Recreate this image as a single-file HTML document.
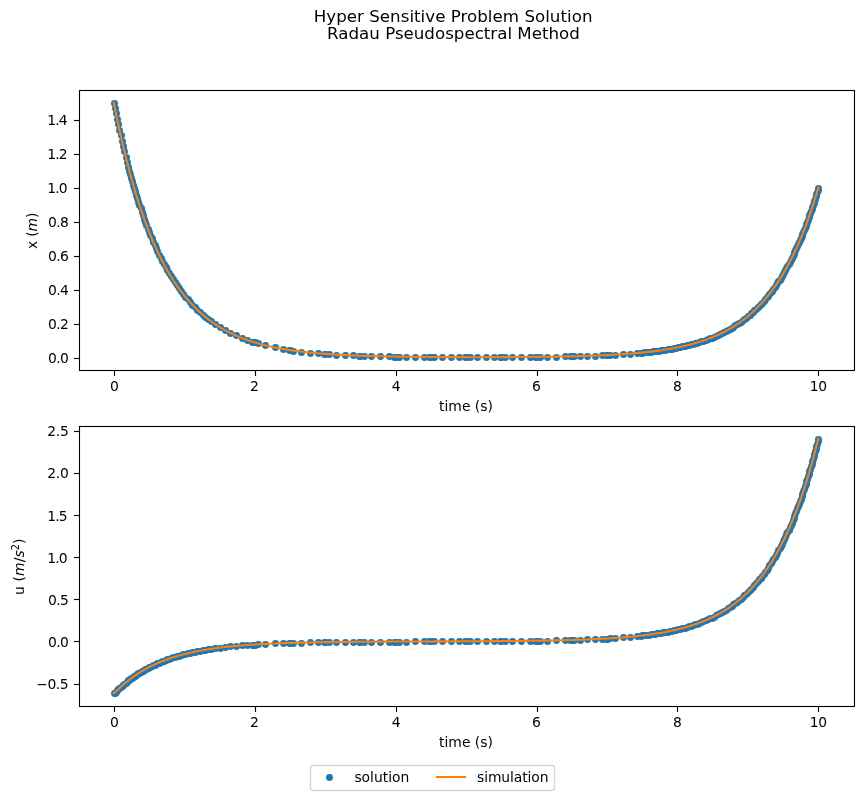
<!DOCTYPE html>
<html><head><meta charset="utf-8"><title>Hyper Sensitive Problem Solution</title>
<style>
html,body{margin:0;padding:0;background:#fff;}
svg{display:block;font-family:"DejaVu Sans","Liberation Sans",sans-serif;fill:#000;}
.t10{font-size:13.889px;}
.t12{font-size:16.667px;}
.yl{letter-spacing:-0.5px;}
</style></head><body>
<svg width="863" height="797" viewBox="0 0 863 797">
<rect width="863" height="797" fill="#fff"/>
<g class="t12" text-anchor="middle"><text x="453.1" y="22" letter-spacing="0.03">Hyper Sensitive Problem Solution</text><text x="453.45" y="39">Radau Pseudospectral Method</text></g>
<g fill="#1f77b4"><circle cx="114.5" cy="103.5" r="3.47"/><circle cx="115.5" cy="108.5" r="3.47"/><circle cx="116.5" cy="113.5" r="3.47"/><circle cx="117.5" cy="119.5" r="3.47"/><circle cx="118.5" cy="124.5" r="3.47"/><circle cx="119.5" cy="130.5" r="3.47"/><circle cx="121.5" cy="135.5" r="3.47"/><circle cx="122.5" cy="141.5" r="3.47"/><circle cx="123.5" cy="146.5" r="3.47"/><circle cx="124.5" cy="151.5" r="3.47"/><circle cx="126.5" cy="157.5" r="3.47"/><circle cx="127.5" cy="162.5" r="3.47"/><circle cx="128.5" cy="167.5" r="3.47"/><circle cx="129.5" cy="171.5" r="3.47"/><circle cx="130.5" cy="174.5" r="3.47"/><circle cx="131.5" cy="178.5" r="3.47"/><circle cx="132.5" cy="181.5" r="3.47"/><circle cx="133.5" cy="185.5" r="3.47"/><circle cx="134.5" cy="188.5" r="3.47"/><circle cx="135.5" cy="191.5" r="3.47"/><circle cx="136.5" cy="195.5" r="3.47"/><circle cx="137.5" cy="198.5" r="3.47"/><circle cx="138.5" cy="202.5" r="3.47"/><circle cx="139.5" cy="205.5" r="3.47"/><circle cx="141.5" cy="208.5" r="3.47"/><circle cx="142.5" cy="212.5" r="3.47"/><circle cx="143.5" cy="215.5" r="3.47"/><circle cx="144.5" cy="219.5" r="3.47"/><circle cx="145.5" cy="222.5" r="3.47"/><circle cx="146.5" cy="225.5" r="3.47"/><circle cx="148.5" cy="229.5" r="3.47"/><circle cx="149.5" cy="232.5" r="3.47"/><circle cx="150.5" cy="235.5" r="3.47"/><circle cx="152.5" cy="238.5" r="3.47"/><circle cx="153.5" cy="242.5" r="3.47"/><circle cx="155.5" cy="245.5" r="3.47"/><circle cx="156.5" cy="248.5" r="3.47"/><circle cx="157.5" cy="251.5" r="3.47"/><circle cx="159.5" cy="255.5" r="3.47"/><circle cx="161.5" cy="258.5" r="3.47"/><circle cx="162.5" cy="261.5" r="3.47"/><circle cx="164.5" cy="264.5" r="3.47"/><circle cx="166.5" cy="267.5" r="3.47"/><circle cx="167.5" cy="270.5" r="3.47"/><circle cx="169.5" cy="273.5" r="3.47"/><circle cx="171.5" cy="276.5" r="3.47"/><circle cx="173.5" cy="279.5" r="3.47"/><circle cx="175.5" cy="282.5" r="3.47"/><circle cx="177.5" cy="285.5" r="3.47"/><circle cx="179.5" cy="288.5" r="3.47"/><circle cx="181.5" cy="291.5" r="3.47"/><circle cx="183.5" cy="294.5" r="3.47"/><circle cx="185.5" cy="297.5" r="3.47"/><circle cx="188.5" cy="299.5" r="3.47"/><circle cx="190.5" cy="302.5" r="3.47"/><circle cx="192.5" cy="305.5" r="3.47"/><circle cx="195.5" cy="307.5" r="3.47"/><circle cx="197.5" cy="310.5" r="3.47"/><circle cx="200.5" cy="312.5" r="3.47"/><circle cx="203.5" cy="315.5" r="3.47"/><circle cx="205.5" cy="317.5" r="3.47"/><circle cx="208.5" cy="319.5" r="3.47"/><circle cx="211.5" cy="321.5" r="3.47"/><circle cx="215.5" cy="324.5" r="3.47"/><circle cx="220.5" cy="327.5" r="3.47"/><circle cx="225.5" cy="330.5" r="3.47"/><circle cx="230.5" cy="333.5" r="3.47"/><circle cx="236.5" cy="335.5" r="3.47"/><circle cx="242.5" cy="338.5" r="3.47"/><circle cx="247.5" cy="340.5" r="3.47"/><circle cx="252.5" cy="342.5" r="3.47"/><circle cx="254.5" cy="342.5" r="3.47"/><circle cx="255.5" cy="342.5" r="3.47"/><circle cx="258.5" cy="343.5" r="3.47"/><circle cx="265.5" cy="345.5" r="3.47"/><circle cx="275.5" cy="347.5" r="3.47"/><circle cx="283.5" cy="349.5" r="3.47"/><circle cx="289.5" cy="350.5" r="3.47"/><circle cx="290.5" cy="350.5" r="3.47"/><circle cx="293.5" cy="351.5" r="3.47"/><circle cx="301.5" cy="352.5" r="3.47"/><circle cx="310.5" cy="353.5" r="3.47"/><circle cx="318.5" cy="353.5" r="3.47"/><circle cx="324.5" cy="354.5" r="3.47"/><circle cx="325.5" cy="354.5" r="3.47"/><circle cx="329.5" cy="354.5" r="3.47"/><circle cx="336.5" cy="355.5" r="3.47"/><circle cx="345.5" cy="355.5" r="3.47"/><circle cx="353.5" cy="355.5" r="3.47"/><circle cx="359.5" cy="356.5" r="3.47"/><circle cx="360.5" cy="356.5" r="3.47"/><circle cx="364.5" cy="356.5" r="3.47"/><circle cx="371.5" cy="356.5" r="3.47"/><circle cx="380.5" cy="356.5" r="3.47"/><circle cx="389.5" cy="356.5" r="3.47"/><circle cx="394.5" cy="357.5" r="3.47"/><circle cx="396.5" cy="357.5" r="3.47"/><circle cx="399.5" cy="357.5" r="3.47"/><circle cx="406.5" cy="357.5" r="3.47"/><circle cx="415.5" cy="357.5" r="3.47"/><circle cx="424.5" cy="357.5" r="3.47"/><circle cx="429.5" cy="357.5" r="3.47"/><circle cx="431.5" cy="357.5" r="3.47"/><circle cx="434.5" cy="357.5" r="3.47"/><circle cx="442.5" cy="357.5" r="3.47"/><circle cx="451.5" cy="357.5" r="3.47"/><circle cx="459.5" cy="357.5" r="3.47"/><circle cx="465.5" cy="357.5" r="3.47"/><circle cx="466.5" cy="357.5" r="3.47"/><circle cx="470.5" cy="357.5" r="3.47"/><circle cx="477.5" cy="357.5" r="3.47"/><circle cx="486.5" cy="357.5" r="3.47"/><circle cx="494.5" cy="357.5" r="3.47"/><circle cx="500.5" cy="357.5" r="3.47"/><circle cx="501.5" cy="357.5" r="3.47"/><circle cx="505.5" cy="357.5" r="3.47"/><circle cx="512.5" cy="357.5" r="3.47"/><circle cx="521.5" cy="357.5" r="3.47"/><circle cx="530.5" cy="357.5" r="3.47"/><circle cx="535.5" cy="357.5" r="3.47"/><circle cx="537.5" cy="357.5" r="3.47"/><circle cx="540.5" cy="357.5" r="3.47"/><circle cx="547.5" cy="357.5" r="3.47"/><circle cx="556.5" cy="357.5" r="3.47"/><circle cx="565.5" cy="356.5" r="3.47"/><circle cx="570.5" cy="356.5" r="3.47"/><circle cx="572.5" cy="356.5" r="3.47"/><circle cx="574.5" cy="356.5" r="3.47"/><circle cx="580.5" cy="356.5" r="3.47"/><circle cx="587.5" cy="356.5" r="3.47"/><circle cx="595.5" cy="356.5" r="3.47"/><circle cx="602.5" cy="355.5" r="3.47"/><circle cx="606.5" cy="355.5" r="3.47"/><circle cx="607.5" cy="355.5" r="3.47"/><circle cx="610.5" cy="355.5" r="3.47"/><circle cx="615.5" cy="355.5" r="3.47"/><circle cx="623.5" cy="354.5" r="3.47"/><circle cx="630.5" cy="354.5" r="3.47"/><circle cx="637.5" cy="353.5" r="3.47"/><circle cx="641.5" cy="353.5" r="3.47"/><circle cx="642.5" cy="353.5" r="3.47"/><circle cx="644.5" cy="352.5" r="3.47"/><circle cx="646.5" cy="352.5" r="3.47"/><circle cx="649.5" cy="352.5" r="3.47"/><circle cx="651.5" cy="352.5" r="3.47"/><circle cx="653.5" cy="351.5" r="3.47"/><circle cx="655.5" cy="351.5" r="3.47"/><circle cx="657.5" cy="351.5" r="3.47"/><circle cx="659.5" cy="351.5" r="3.47"/><circle cx="661.5" cy="350.5" r="3.47"/><circle cx="663.5" cy="350.5" r="3.47"/><circle cx="665.5" cy="350.5" r="3.47"/><circle cx="668.5" cy="349.5" r="3.47"/><circle cx="670.5" cy="349.5" r="3.47"/><circle cx="672.5" cy="349.5" r="3.47"/><circle cx="674.5" cy="348.5" r="3.47"/><circle cx="676.5" cy="348.5" r="3.47"/><circle cx="678.5" cy="347.5" r="3.47"/><circle cx="680.5" cy="347.5" r="3.47"/><circle cx="682.5" cy="346.5" r="3.47"/><circle cx="685.5" cy="346.5" r="3.47"/><circle cx="687.5" cy="345.5" r="3.47"/><circle cx="689.5" cy="345.5" r="3.47"/><circle cx="691.5" cy="344.5" r="3.47"/><circle cx="693.5" cy="344.5" r="3.47"/><circle cx="695.5" cy="343.5" r="3.47"/><circle cx="697.5" cy="343.5" r="3.47"/><circle cx="699.5" cy="342.5" r="3.47"/><circle cx="701.5" cy="341.5" r="3.47"/><circle cx="703.5" cy="341.5" r="3.47"/><circle cx="706.5" cy="340.5" r="3.47"/><circle cx="708.5" cy="339.5" r="3.47"/><circle cx="710.5" cy="338.5" r="3.47"/><circle cx="712.5" cy="338.5" r="3.47"/><circle cx="714.5" cy="337.5" r="3.47"/><circle cx="716.5" cy="336.5" r="3.47"/><circle cx="718.5" cy="335.5" r="3.47"/><circle cx="720.5" cy="334.5" r="3.47"/><circle cx="722.5" cy="333.5" r="3.47"/><circle cx="724.5" cy="332.5" r="3.47"/><circle cx="726.5" cy="331.5" r="3.47"/><circle cx="728.5" cy="330.5" r="3.47"/><circle cx="730.5" cy="329.5" r="3.47"/><circle cx="732.5" cy="328.5" r="3.47"/><circle cx="733.5" cy="327.5" r="3.47"/><circle cx="735.5" cy="325.5" r="3.47"/><circle cx="737.5" cy="324.5" r="3.47"/><circle cx="739.5" cy="323.5" r="3.47"/><circle cx="741.5" cy="322.5" r="3.47"/><circle cx="743.5" cy="320.5" r="3.47"/><circle cx="744.5" cy="319.5" r="3.47"/><circle cx="746.5" cy="318.5" r="3.47"/><circle cx="748.5" cy="316.5" r="3.47"/><circle cx="750.5" cy="315.5" r="3.47"/><circle cx="751.5" cy="313.5" r="3.47"/><circle cx="753.5" cy="312.5" r="3.47"/><circle cx="754.5" cy="310.5" r="3.47"/><circle cx="756.5" cy="309.5" r="3.47"/><circle cx="758.5" cy="307.5" r="3.47"/><circle cx="759.5" cy="306.5" r="3.47"/><circle cx="761.5" cy="304.5" r="3.47"/><circle cx="762.5" cy="303.5" r="3.47"/><circle cx="764.5" cy="301.5" r="3.47"/><circle cx="765.5" cy="299.5" r="3.47"/><circle cx="767.5" cy="297.5" r="3.47"/><circle cx="768.5" cy="296.5" r="3.47"/><circle cx="769.5" cy="294.5" r="3.47"/><circle cx="771.5" cy="292.5" r="3.47"/><circle cx="772.5" cy="291.5" r="3.47"/><circle cx="773.5" cy="289.5" r="3.47"/><circle cx="775.5" cy="287.5" r="3.47"/><circle cx="776.5" cy="285.5" r="3.47"/><circle cx="777.5" cy="283.5" r="3.47"/><circle cx="778.5" cy="281.5" r="3.47"/><circle cx="780.5" cy="280.5" r="3.47"/><circle cx="781.5" cy="278.5" r="3.47"/><circle cx="782.5" cy="276.5" r="3.47"/><circle cx="783.5" cy="274.5" r="3.47"/><circle cx="784.5" cy="272.5" r="3.47"/><circle cx="785.5" cy="270.5" r="3.47"/><circle cx="786.5" cy="268.5" r="3.47"/><circle cx="787.5" cy="266.5" r="3.47"/><circle cx="789.5" cy="264.5" r="3.47"/><circle cx="790.5" cy="262.5" r="3.47"/><circle cx="791.5" cy="260.5" r="3.47"/><circle cx="792.5" cy="258.5" r="3.47"/><circle cx="793.5" cy="256.5" r="3.47"/><circle cx="794.5" cy="254.5" r="3.47"/><circle cx="794.5" cy="252.5" r="3.47"/><circle cx="795.5" cy="250.5" r="3.47"/><circle cx="796.5" cy="248.5" r="3.47"/><circle cx="797.5" cy="246.5" r="3.47"/><circle cx="798.5" cy="244.5" r="3.47"/><circle cx="799.5" cy="242.5" r="3.47"/><circle cx="800.5" cy="240.5" r="3.47"/><circle cx="801.5" cy="238.5" r="3.47"/><circle cx="802.5" cy="236.5" r="3.47"/><circle cx="802.5" cy="234.5" r="3.47"/><circle cx="803.5" cy="232.5" r="3.47"/><circle cx="804.5" cy="230.5" r="3.47"/><circle cx="805.5" cy="228.5" r="3.47"/><circle cx="806.5" cy="226.5" r="3.47"/><circle cx="806.5" cy="224.5" r="3.47"/><circle cx="807.5" cy="222.5" r="3.47"/><circle cx="808.5" cy="220.5" r="3.47"/><circle cx="809.5" cy="217.5" r="3.47"/><circle cx="809.5" cy="215.5" r="3.47"/><circle cx="810.5" cy="213.5" r="3.47"/><circle cx="811.5" cy="211.5" r="3.47"/><circle cx="812.5" cy="209.5" r="3.47"/><circle cx="812.5" cy="207.5" r="3.47"/><circle cx="813.5" cy="205.5" r="3.47"/><circle cx="814.5" cy="203.5" r="3.47"/><circle cx="814.5" cy="201.5" r="3.47"/><circle cx="815.5" cy="199.5" r="3.47"/><circle cx="816.5" cy="196.5" r="3.47"/><circle cx="816.5" cy="194.5" r="3.47"/><circle cx="817.5" cy="192.5" r="3.47"/><circle cx="818.5" cy="190.5" r="3.47"/><circle cx="818.5" cy="188.5" r="3.47"/></g>
<polyline points="113.83,102.63 115.24,109.75 116.65,116.67 118.06,123.40 119.47,129.95 120.89,136.31 122.30,142.49 123.71,148.50 125.12,154.34 126.53,160.01 127.95,165.53 129.36,170.90 130.77,176.11 132.18,181.18 133.59,186.11 135.01,190.90 136.42,195.56 137.83,200.08 139.24,204.48 140.65,208.76 142.07,212.91 143.48,216.96 144.89,220.88 146.30,224.70 147.71,228.41 149.13,232.02 150.54,235.53 151.95,238.94 153.36,242.25 154.77,245.47 156.18,248.60 157.60,251.65 159.01,254.61 160.42,257.48 161.83,260.28 163.24,262.99 164.66,265.64 166.07,268.20 167.48,270.70 168.89,273.13 170.30,275.48 171.72,277.78 173.13,280.01 174.54,282.17 175.95,284.28 177.36,286.32 178.78,288.31 180.19,290.25 181.60,292.13 183.01,293.95 184.42,295.73 185.83,297.46 187.25,299.14 188.66,300.77 190.07,302.35 191.48,303.90 192.89,305.39 194.31,306.85 195.72,308.27 197.13,309.64 198.54,310.98 199.95,312.28 201.37,313.55 202.78,314.77 204.19,315.97 205.60,317.13 207.01,318.26 208.43,319.36 209.84,320.42 211.25,321.46 212.66,322.47 214.07,323.45 215.49,324.40 216.90,325.32 218.31,326.22 219.72,327.10 221.13,327.95 222.54,328.78 223.96,329.58 225.37,330.36 226.78,331.12 228.19,331.86 229.60,332.57 231.02,333.27 232.43,333.95 233.84,334.61 235.25,335.25 236.66,335.87 238.08,336.48 239.49,337.06 240.90,337.64 242.31,338.19 243.72,338.73 245.14,339.26 246.55,339.77 247.96,340.26 249.37,340.75 250.78,341.21 252.19,341.67 253.61,342.11 255.02,342.54 256.43,342.96 257.84,343.37 259.25,343.76 260.67,344.15 262.08,344.52 263.49,344.89 264.90,345.24 266.31,345.58 267.73,345.92 269.14,346.24 270.55,346.55 271.96,346.86 273.37,347.16 274.79,347.45 276.20,347.73 277.61,348.00 279.02,348.27 280.43,348.53 281.85,348.78 283.26,349.02 284.67,349.26 286.08,349.49 287.49,349.72 288.90,349.93 290.32,350.15 291.73,350.35 293.14,350.55 294.55,350.75 295.96,350.94 297.38,351.12 298.79,351.30 300.20,351.47 301.61,351.64 303.02,351.81 304.44,351.96 305.85,352.12 307.26,352.27 308.67,352.42 310.08,352.56 311.50,352.70 312.91,352.83 314.32,352.96 315.73,353.09 317.14,353.21 318.55,353.33 319.97,353.45 321.38,353.56 322.79,353.67 324.20,353.78 325.61,353.89 327.03,353.99 328.44,354.09 329.85,354.18 331.26,354.27 332.67,354.36 334.09,354.45 335.50,354.54 336.91,354.62 338.32,354.70 339.73,354.78 341.15,354.86 342.56,354.93 343.97,355.00 345.38,355.07 346.79,355.14 348.21,355.20 349.62,355.27 351.03,355.33 352.44,355.39 353.85,355.45 355.26,355.51 356.68,355.56 358.09,355.62 359.50,355.67 360.91,355.72 362.32,355.77 363.74,355.82 365.15,355.86 366.56,355.91 367.97,355.95 369.38,356.00 370.80,356.04 372.21,356.08 373.62,356.12 375.03,356.16 376.44,356.19 377.86,356.23 379.27,356.26 380.68,356.30 382.09,356.33 383.50,356.36 384.91,356.39 386.33,356.42 387.74,356.45 389.15,356.48 390.56,356.51 391.97,356.54 393.39,356.56 394.80,356.59 396.21,356.61 397.62,356.63 399.03,356.66 400.45,356.68 401.86,356.70 403.27,356.72 404.68,356.74 406.09,356.76 407.51,356.78 408.92,356.80 410.33,356.82 411.74,356.83 413.15,356.85 414.57,356.87 415.98,356.88 417.39,356.90 418.80,356.91 420.21,356.92 421.62,356.94 423.04,356.95 424.45,356.96 425.86,356.98 427.27,356.99 428.68,357.00 430.10,357.01 431.51,357.02 432.92,357.03 434.33,357.04 435.74,357.05 437.16,357.06 438.57,357.07 439.98,357.08 441.39,357.08 442.80,357.09 444.22,357.10 445.63,357.10 447.04,357.11 448.45,357.12 449.86,357.12 451.27,357.13 452.69,357.13 454.10,357.14 455.51,357.14 456.92,357.15 458.33,357.15 459.75,357.15 461.16,357.16 462.57,357.16 463.98,357.16 465.39,357.16 466.81,357.17 468.22,357.17 469.63,357.17 471.04,357.17 472.45,357.17 473.87,357.17 475.28,357.17 476.69,357.17 478.10,357.17 479.51,357.17 480.93,357.17 482.34,357.17 483.75,357.17 485.16,357.17 486.57,357.17 487.98,357.16 489.40,357.16 490.81,357.16 492.22,357.15 493.63,357.15 495.04,357.15 496.46,357.14 497.87,357.14 499.28,357.13 500.69,357.13 502.10,357.12 503.52,357.12 504.93,357.11 506.34,357.11 507.75,357.10 509.16,357.09 510.58,357.09 511.99,357.08 513.40,357.07 514.81,357.06 516.22,357.05 517.63,357.04 519.05,357.03 520.46,357.02 521.87,357.01 523.28,357.00 524.69,356.99 526.11,356.98 527.52,356.97 528.93,356.96 530.34,356.94 531.75,356.93 533.17,356.92 534.58,356.90 535.99,356.89 537.40,356.87 538.81,356.85 540.23,356.84 541.64,356.82 543.05,356.80 544.46,356.79 545.87,356.77 547.29,356.75 548.70,356.73 550.11,356.71 551.52,356.69 552.93,356.66 554.34,356.64 555.76,356.62 557.17,356.59 558.58,356.57 559.99,356.54 561.40,356.52 562.82,356.49 564.23,356.46 565.64,356.43 567.05,356.40 568.46,356.37 569.88,356.34 571.29,356.31 572.70,356.27 574.11,356.24 575.52,356.20 576.94,356.17 578.35,356.13 579.76,356.09 581.17,356.05 582.58,356.01 583.99,355.97 585.41,355.92 586.82,355.88 588.23,355.83 589.64,355.78 591.05,355.74 592.47,355.69 593.88,355.63 595.29,355.58 596.70,355.53 598.11,355.47 599.53,355.41 600.94,355.35 602.35,355.29 603.76,355.22 605.17,355.16 606.59,355.09 608.00,355.02 609.41,354.95 610.82,354.88 612.23,354.80 613.65,354.73 615.06,354.65 616.47,354.56 617.88,354.48 619.29,354.39 620.70,354.30 622.12,354.21 623.53,354.12 624.94,354.02 626.35,353.92 627.76,353.81 629.18,353.71 630.59,353.60 632.00,353.49 633.41,353.37 634.82,353.25 636.24,353.13 637.65,353.00 639.06,352.87 640.47,352.74 641.88,352.60 643.30,352.46 644.71,352.32 646.12,352.17 647.53,352.01 648.94,351.85 650.35,351.69 651.77,351.52 653.18,351.35 654.59,351.18 656.00,350.99 657.41,350.81 658.83,350.61 660.24,350.41 661.65,350.21 663.06,350.00 664.47,349.78 665.89,349.56 667.30,349.33 668.71,349.10 670.12,348.85 671.53,348.61 672.95,348.35 674.36,348.09 675.77,347.81 677.18,347.54 678.59,347.25 680.01,346.95 681.42,346.65 682.83,346.34 684.24,346.02 685.65,345.69 687.06,345.34 688.48,344.99 689.89,344.63 691.30,344.26 692.71,343.88 694.12,343.49 695.54,343.09 696.95,342.67 698.36,342.25 699.77,341.81 701.18,341.36 702.60,340.89 704.01,340.41 705.42,339.92 706.83,339.41 708.24,338.89 709.66,338.36 711.07,337.81 712.48,337.24 713.89,336.66 715.30,336.06 716.71,335.44 718.13,334.81 719.54,334.15 720.95,333.48 722.36,332.79 723.77,332.08 725.19,331.35 726.60,330.60 728.01,329.82 729.42,329.02 730.83,328.21 732.25,327.36 733.66,326.50 735.07,325.60 736.48,324.69 737.89,323.74 739.31,322.77 740.72,321.77 742.13,320.74 743.54,319.69 744.95,318.60 746.37,317.48 747.78,316.33 749.19,315.14 750.60,313.93 752.01,312.67 753.42,311.38 754.84,310.06 756.25,308.69 757.66,307.29 759.07,305.85 760.48,304.36 761.90,302.83 763.31,301.26 764.72,299.64 766.13,297.98 767.54,296.27 768.96,294.50 770.37,292.69 771.78,290.83 773.19,288.91 774.60,286.94 776.02,284.91 777.43,282.82 778.84,280.68 780.25,278.47 781.66,276.19 783.07,273.86 784.49,271.45 785.90,268.98 787.31,266.43 788.72,263.81 790.13,261.12 791.55,258.35 792.96,255.50 794.37,252.56 795.78,249.55 797.19,246.44 798.61,243.25 800.02,239.96 801.43,236.58 802.84,233.11 804.25,229.53 805.67,225.85 807.08,222.07 808.49,218.17 809.90,214.17 811.31,210.05 812.73,205.81 814.14,201.44 815.55,196.96 816.96,192.34 818.37,187.59" fill="none" stroke="#ff7f0e" stroke-width="2.083" stroke-linejoin="round" stroke-linecap="square"/>
<g fill="#000" shape-rendering="crispEdges">
<rect x="79" y="90" width="776" height="1"/>
<rect x="79" y="370" width="776" height="1"/>
<rect x="74" y="120" width="5" height="1"/>
<rect x="74" y="154" width="5" height="1"/>
<rect x="74" y="188" width="5" height="1"/>
<rect x="74" y="222" width="5" height="1"/>
<rect x="74" y="256" width="5" height="1"/>
<rect x="74" y="290" width="5" height="1"/>
<rect x="74" y="324" width="5" height="1"/>
<rect x="74" y="358" width="5" height="1"/>
<rect x="79" y="90" width="1" height="281"/>
<rect x="854" y="90" width="1" height="281"/>
<rect x="114" y="371" width="1" height="5"/>
<rect x="255" y="371" width="1" height="5"/>
<rect x="396" y="371" width="1" height="5"/>
<rect x="537" y="371" width="1" height="5"/>
<rect x="677" y="371" width="1" height="5"/>
<rect x="818" y="371" width="1" height="5"/>
</g><g fill="#000" fill-opacity="0.055" shape-rendering="crispEdges">
<rect x="79" y="89" width="776" height="1"/><rect x="79" y="91" width="776" height="1"/>
<rect x="79" y="369" width="776" height="1"/><rect x="79" y="371" width="776" height="1"/>
<rect x="74" y="119" width="5" height="1"/><rect x="74" y="121" width="5" height="1"/>
<rect x="74" y="153" width="5" height="1"/><rect x="74" y="155" width="5" height="1"/>
<rect x="74" y="187" width="5" height="1"/><rect x="74" y="189" width="5" height="1"/>
<rect x="74" y="221" width="5" height="1"/><rect x="74" y="223" width="5" height="1"/>
<rect x="74" y="255" width="5" height="1"/><rect x="74" y="257" width="5" height="1"/>
<rect x="74" y="289" width="5" height="1"/><rect x="74" y="291" width="5" height="1"/>
<rect x="74" y="323" width="5" height="1"/><rect x="74" y="325" width="5" height="1"/>
<rect x="74" y="357" width="5" height="1"/><rect x="74" y="359" width="5" height="1"/>
<rect x="78" y="90" width="1" height="281"/><rect x="80" y="90" width="1" height="281"/>
<rect x="853" y="90" width="1" height="281"/><rect x="855" y="90" width="1" height="281"/>
<rect x="113" y="371" width="1" height="5"/><rect x="115" y="371" width="1" height="5"/>
<rect x="254" y="371" width="1" height="5"/><rect x="256" y="371" width="1" height="5"/>
<rect x="395" y="371" width="1" height="5"/><rect x="397" y="371" width="1" height="5"/>
<rect x="536" y="371" width="1" height="5"/><rect x="538" y="371" width="1" height="5"/>
<rect x="676" y="371" width="1" height="5"/><rect x="678" y="371" width="1" height="5"/>
<rect x="817" y="371" width="1" height="5"/><rect x="819" y="371" width="1" height="5"/>
</g>
<g class="t10">
<text x="114.43" y="391" text-anchor="middle">0</text>
<text x="254.34" y="391" text-anchor="middle">2</text>
<text x="396.15" y="391" text-anchor="middle">4</text>
<text x="536.35" y="391" text-anchor="middle">6</text>
<text x="677.36" y="391" text-anchor="middle">8</text>
<text x="809.83" y="391" letter-spacing="-0.45">10</text>
<text x="47.2" y="125" letter-spacing="-0.8">1.4</text>
<text x="47.2" y="159" letter-spacing="-0.8">1.2</text>
<text x="47.2" y="193" letter-spacing="-0.8">1.0</text>
<text x="48.1" y="227" letter-spacing="-0.65">0.8</text>
<text x="48.1" y="261" letter-spacing="-0.65">0.6</text>
<text x="48.1" y="295" letter-spacing="-0.65">0.4</text>
<text x="48.1" y="329" letter-spacing="-0.65">0.2</text>
<text x="48.1" y="363" letter-spacing="-0.65">0.0</text>
<text x="466.0" y="411" text-anchor="middle">time (s)</text>
</g>
<g transform="translate(37.75 249.04) rotate(-90)" class="t10"><text y="-0.56" letter-spacing="-0.15">x (<tspan font-style="oblique">m</tspan>)</text></g>
<g fill="#1f77b4"><circle cx="114.5" cy="693.5" r="3.47"/><circle cx="115.5" cy="693.5" r="3.47"/><circle cx="116.5" cy="692.5" r="3.47"/><circle cx="117.5" cy="690.5" r="3.47"/><circle cx="118.5" cy="689.5" r="3.47"/><circle cx="119.5" cy="688.5" r="3.47"/><circle cx="121.5" cy="687.5" r="3.47"/><circle cx="122.5" cy="686.5" r="3.47"/><circle cx="123.5" cy="685.5" r="3.47"/><circle cx="124.5" cy="684.5" r="3.47"/><circle cx="126.5" cy="683.5" r="3.47"/><circle cx="127.5" cy="682.5" r="3.47"/><circle cx="128.5" cy="680.5" r="3.47"/><circle cx="129.5" cy="680.5" r="3.47"/><circle cx="130.5" cy="679.5" r="3.47"/><circle cx="131.5" cy="678.5" r="3.47"/><circle cx="132.5" cy="678.5" r="3.47"/><circle cx="133.5" cy="677.5" r="3.47"/><circle cx="134.5" cy="676.5" r="3.47"/><circle cx="135.5" cy="676.5" r="3.47"/><circle cx="136.5" cy="675.5" r="3.47"/><circle cx="137.5" cy="674.5" r="3.47"/><circle cx="138.5" cy="673.5" r="3.47"/><circle cx="139.5" cy="673.5" r="3.47"/><circle cx="141.5" cy="672.5" r="3.47"/><circle cx="142.5" cy="671.5" r="3.47"/><circle cx="143.5" cy="671.5" r="3.47"/><circle cx="144.5" cy="670.5" r="3.47"/><circle cx="145.5" cy="669.5" r="3.47"/><circle cx="146.5" cy="669.5" r="3.47"/><circle cx="148.5" cy="668.5" r="3.47"/><circle cx="149.5" cy="667.5" r="3.47"/><circle cx="150.5" cy="667.5" r="3.47"/><circle cx="152.5" cy="666.5" r="3.47"/><circle cx="153.5" cy="665.5" r="3.47"/><circle cx="155.5" cy="665.5" r="3.47"/><circle cx="156.5" cy="664.5" r="3.47"/><circle cx="157.5" cy="663.5" r="3.47"/><circle cx="159.5" cy="663.5" r="3.47"/><circle cx="161.5" cy="662.5" r="3.47"/><circle cx="162.5" cy="661.5" r="3.47"/><circle cx="164.5" cy="661.5" r="3.47"/><circle cx="166.5" cy="660.5" r="3.47"/><circle cx="167.5" cy="659.5" r="3.47"/><circle cx="169.5" cy="659.5" r="3.47"/><circle cx="171.5" cy="658.5" r="3.47"/><circle cx="173.5" cy="657.5" r="3.47"/><circle cx="175.5" cy="657.5" r="3.47"/><circle cx="177.5" cy="656.5" r="3.47"/><circle cx="179.5" cy="656.5" r="3.47"/><circle cx="181.5" cy="655.5" r="3.47"/><circle cx="183.5" cy="654.5" r="3.47"/><circle cx="185.5" cy="654.5" r="3.47"/><circle cx="188.5" cy="653.5" r="3.47"/><circle cx="190.5" cy="653.5" r="3.47"/><circle cx="192.5" cy="652.5" r="3.47"/><circle cx="195.5" cy="652.5" r="3.47"/><circle cx="197.5" cy="651.5" r="3.47"/><circle cx="200.5" cy="651.5" r="3.47"/><circle cx="203.5" cy="650.5" r="3.47"/><circle cx="205.5" cy="650.5" r="3.47"/><circle cx="208.5" cy="649.5" r="3.47"/><circle cx="211.5" cy="649.5" r="3.47"/><circle cx="215.5" cy="648.5" r="3.47"/><circle cx="220.5" cy="648.5" r="3.47"/><circle cx="225.5" cy="647.5" r="3.47"/><circle cx="230.5" cy="646.5" r="3.47"/><circle cx="236.5" cy="646.5" r="3.47"/><circle cx="242.5" cy="645.5" r="3.47"/><circle cx="247.5" cy="645.5" r="3.47"/><circle cx="252.5" cy="645.5" r="3.47"/><circle cx="254.5" cy="645.5" r="3.47"/><circle cx="255.5" cy="645.5" r="3.47"/><circle cx="258.5" cy="644.5" r="3.47"/><circle cx="265.5" cy="644.5" r="3.47"/><circle cx="275.5" cy="643.5" r="3.47"/><circle cx="283.5" cy="643.5" r="3.47"/><circle cx="289.5" cy="643.5" r="3.47"/><circle cx="290.5" cy="643.5" r="3.47"/><circle cx="293.5" cy="643.5" r="3.47"/><circle cx="301.5" cy="643.5" r="3.47"/><circle cx="310.5" cy="642.5" r="3.47"/><circle cx="318.5" cy="642.5" r="3.47"/><circle cx="324.5" cy="642.5" r="3.47"/><circle cx="325.5" cy="642.5" r="3.47"/><circle cx="329.5" cy="642.5" r="3.47"/><circle cx="336.5" cy="642.5" r="3.47"/><circle cx="345.5" cy="642.5" r="3.47"/><circle cx="353.5" cy="642.5" r="3.47"/><circle cx="359.5" cy="642.5" r="3.47"/><circle cx="360.5" cy="642.5" r="3.47"/><circle cx="364.5" cy="642.5" r="3.47"/><circle cx="371.5" cy="642.5" r="3.47"/><circle cx="380.5" cy="642.5" r="3.47"/><circle cx="389.5" cy="642.5" r="3.47"/><circle cx="394.5" cy="642.5" r="3.47"/><circle cx="396.5" cy="642.5" r="3.47"/><circle cx="399.5" cy="642.5" r="3.47"/><circle cx="406.5" cy="642.5" r="3.47"/><circle cx="415.5" cy="641.5" r="3.47"/><circle cx="424.5" cy="641.5" r="3.47"/><circle cx="429.5" cy="641.5" r="3.47"/><circle cx="431.5" cy="641.5" r="3.47"/><circle cx="434.5" cy="641.5" r="3.47"/><circle cx="442.5" cy="641.5" r="3.47"/><circle cx="451.5" cy="641.5" r="3.47"/><circle cx="459.5" cy="641.5" r="3.47"/><circle cx="465.5" cy="641.5" r="3.47"/><circle cx="466.5" cy="641.5" r="3.47"/><circle cx="470.5" cy="641.5" r="3.47"/><circle cx="477.5" cy="641.5" r="3.47"/><circle cx="486.5" cy="641.5" r="3.47"/><circle cx="494.5" cy="641.5" r="3.47"/><circle cx="500.5" cy="641.5" r="3.47"/><circle cx="501.5" cy="641.5" r="3.47"/><circle cx="505.5" cy="641.5" r="3.47"/><circle cx="512.5" cy="641.5" r="3.47"/><circle cx="521.5" cy="641.5" r="3.47"/><circle cx="530.5" cy="641.5" r="3.47"/><circle cx="535.5" cy="641.5" r="3.47"/><circle cx="537.5" cy="641.5" r="3.47"/><circle cx="540.5" cy="641.5" r="3.47"/><circle cx="547.5" cy="641.5" r="3.47"/><circle cx="556.5" cy="640.5" r="3.47"/><circle cx="565.5" cy="640.5" r="3.47"/><circle cx="570.5" cy="640.5" r="3.47"/><circle cx="572.5" cy="640.5" r="3.47"/><circle cx="574.5" cy="640.5" r="3.47"/><circle cx="580.5" cy="640.5" r="3.47"/><circle cx="587.5" cy="639.5" r="3.47"/><circle cx="595.5" cy="639.5" r="3.47"/><circle cx="602.5" cy="639.5" r="3.47"/><circle cx="606.5" cy="639.5" r="3.47"/><circle cx="607.5" cy="639.5" r="3.47"/><circle cx="610.5" cy="638.5" r="3.47"/><circle cx="615.5" cy="638.5" r="3.47"/><circle cx="623.5" cy="637.5" r="3.47"/><circle cx="630.5" cy="637.5" r="3.47"/><circle cx="637.5" cy="636.5" r="3.47"/><circle cx="641.5" cy="636.5" r="3.47"/><circle cx="642.5" cy="635.5" r="3.47"/><circle cx="644.5" cy="635.5" r="3.47"/><circle cx="646.5" cy="635.5" r="3.47"/><circle cx="649.5" cy="635.5" r="3.47"/><circle cx="651.5" cy="634.5" r="3.47"/><circle cx="653.5" cy="634.5" r="3.47"/><circle cx="655.5" cy="634.5" r="3.47"/><circle cx="657.5" cy="633.5" r="3.47"/><circle cx="659.5" cy="633.5" r="3.47"/><circle cx="661.5" cy="633.5" r="3.47"/><circle cx="663.5" cy="632.5" r="3.47"/><circle cx="665.5" cy="632.5" r="3.47"/><circle cx="668.5" cy="632.5" r="3.47"/><circle cx="670.5" cy="631.5" r="3.47"/><circle cx="672.5" cy="631.5" r="3.47"/><circle cx="674.5" cy="630.5" r="3.47"/><circle cx="676.5" cy="630.5" r="3.47"/><circle cx="678.5" cy="629.5" r="3.47"/><circle cx="680.5" cy="629.5" r="3.47"/><circle cx="682.5" cy="628.5" r="3.47"/><circle cx="685.5" cy="628.5" r="3.47"/><circle cx="687.5" cy="627.5" r="3.47"/><circle cx="689.5" cy="626.5" r="3.47"/><circle cx="691.5" cy="626.5" r="3.47"/><circle cx="693.5" cy="625.5" r="3.47"/><circle cx="695.5" cy="624.5" r="3.47"/><circle cx="697.5" cy="624.5" r="3.47"/><circle cx="699.5" cy="623.5" r="3.47"/><circle cx="701.5" cy="622.5" r="3.47"/><circle cx="703.5" cy="621.5" r="3.47"/><circle cx="706.5" cy="620.5" r="3.47"/><circle cx="708.5" cy="619.5" r="3.47"/><circle cx="710.5" cy="618.5" r="3.47"/><circle cx="712.5" cy="618.5" r="3.47"/><circle cx="714.5" cy="617.5" r="3.47"/><circle cx="716.5" cy="615.5" r="3.47"/><circle cx="718.5" cy="614.5" r="3.47"/><circle cx="720.5" cy="613.5" r="3.47"/><circle cx="722.5" cy="612.5" r="3.47"/><circle cx="724.5" cy="611.5" r="3.47"/><circle cx="726.5" cy="610.5" r="3.47"/><circle cx="728.5" cy="608.5" r="3.47"/><circle cx="730.5" cy="607.5" r="3.47"/><circle cx="732.5" cy="606.5" r="3.47"/><circle cx="733.5" cy="604.5" r="3.47"/><circle cx="735.5" cy="603.5" r="3.47"/><circle cx="737.5" cy="602.5" r="3.47"/><circle cx="739.5" cy="600.5" r="3.47"/><circle cx="741.5" cy="599.5" r="3.47"/><circle cx="743.5" cy="597.5" r="3.47"/><circle cx="744.5" cy="595.5" r="3.47"/><circle cx="746.5" cy="594.5" r="3.47"/><circle cx="748.5" cy="592.5" r="3.47"/><circle cx="750.5" cy="590.5" r="3.47"/><circle cx="751.5" cy="589.5" r="3.47"/><circle cx="753.5" cy="587.5" r="3.47"/><circle cx="754.5" cy="585.5" r="3.47"/><circle cx="756.5" cy="583.5" r="3.47"/><circle cx="758.5" cy="581.5" r="3.47"/><circle cx="759.5" cy="579.5" r="3.47"/><circle cx="761.5" cy="578.5" r="3.47"/><circle cx="762.5" cy="576.5" r="3.47"/><circle cx="764.5" cy="574.5" r="3.47"/><circle cx="765.5" cy="572.5" r="3.47"/><circle cx="767.5" cy="570.5" r="3.47"/><circle cx="768.5" cy="568.5" r="3.47"/><circle cx="769.5" cy="565.5" r="3.47"/><circle cx="771.5" cy="563.5" r="3.47"/><circle cx="772.5" cy="561.5" r="3.47"/><circle cx="773.5" cy="559.5" r="3.47"/><circle cx="775.5" cy="557.5" r="3.47"/><circle cx="776.5" cy="555.5" r="3.47"/><circle cx="777.5" cy="553.5" r="3.47"/><circle cx="778.5" cy="550.5" r="3.47"/><circle cx="780.5" cy="548.5" r="3.47"/><circle cx="781.5" cy="546.5" r="3.47"/><circle cx="782.5" cy="544.5" r="3.47"/><circle cx="783.5" cy="541.5" r="3.47"/><circle cx="784.5" cy="539.5" r="3.47"/><circle cx="785.5" cy="537.5" r="3.47"/><circle cx="786.5" cy="534.5" r="3.47"/><circle cx="787.5" cy="532.5" r="3.47"/><circle cx="789.5" cy="530.5" r="3.47"/><circle cx="790.5" cy="527.5" r="3.47"/><circle cx="791.5" cy="525.5" r="3.47"/><circle cx="792.5" cy="523.5" r="3.47"/><circle cx="793.5" cy="520.5" r="3.47"/><circle cx="794.5" cy="518.5" r="3.47"/><circle cx="794.5" cy="516.5" r="3.47"/><circle cx="795.5" cy="513.5" r="3.47"/><circle cx="796.5" cy="511.5" r="3.47"/><circle cx="797.5" cy="508.5" r="3.47"/><circle cx="798.5" cy="506.5" r="3.47"/><circle cx="799.5" cy="504.5" r="3.47"/><circle cx="800.5" cy="501.5" r="3.47"/><circle cx="801.5" cy="499.5" r="3.47"/><circle cx="802.5" cy="496.5" r="3.47"/><circle cx="802.5" cy="494.5" r="3.47"/><circle cx="803.5" cy="491.5" r="3.47"/><circle cx="804.5" cy="489.5" r="3.47"/><circle cx="805.5" cy="486.5" r="3.47"/><circle cx="806.5" cy="484.5" r="3.47"/><circle cx="806.5" cy="481.5" r="3.47"/><circle cx="807.5" cy="479.5" r="3.47"/><circle cx="808.5" cy="476.5" r="3.47"/><circle cx="809.5" cy="474.5" r="3.47"/><circle cx="809.5" cy="471.5" r="3.47"/><circle cx="810.5" cy="469.5" r="3.47"/><circle cx="811.5" cy="466.5" r="3.47"/><circle cx="812.5" cy="464.5" r="3.47"/><circle cx="812.5" cy="461.5" r="3.47"/><circle cx="813.5" cy="459.5" r="3.47"/><circle cx="814.5" cy="456.5" r="3.47"/><circle cx="814.5" cy="454.5" r="3.47"/><circle cx="815.5" cy="451.5" r="3.47"/><circle cx="816.5" cy="449.5" r="3.47"/><circle cx="816.5" cy="446.5" r="3.47"/><circle cx="817.5" cy="444.5" r="3.47"/><circle cx="818.5" cy="441.5" r="3.47"/><circle cx="818.5" cy="439.5" r="3.47"/></g>
<polyline points="113.83,693.14 115.24,692.27 116.65,690.85 118.06,689.47 119.47,688.13 120.89,686.82 122.30,685.55 123.71,684.32 125.12,683.12 126.53,681.96 127.95,680.82 129.36,679.72 130.77,678.65 132.18,677.61 133.59,676.60 135.01,675.62 136.42,674.66 137.83,673.73 139.24,672.83 140.65,671.95 142.07,671.10 143.48,670.27 144.89,669.46 146.30,668.68 147.71,667.92 149.13,667.18 150.54,666.46 151.95,665.76 153.36,665.08 154.77,664.42 156.18,663.77 157.60,663.15 159.01,662.54 160.42,661.95 161.83,661.38 163.24,660.82 164.66,660.28 166.07,659.75 167.48,659.24 168.89,658.74 170.30,658.26 171.72,657.79 173.13,657.33 174.54,656.88 175.95,656.45 177.36,656.03 178.78,655.62 180.19,655.23 181.60,654.84 183.01,654.47 184.42,654.10 185.83,653.75 187.25,653.40 188.66,653.07 190.07,652.74 191.48,652.42 192.89,652.12 194.31,651.82 195.72,651.53 197.13,651.25 198.54,650.97 199.95,650.70 201.37,650.44 202.78,650.19 204.19,649.95 205.60,649.71 207.01,649.48 208.43,649.25 209.84,649.03 211.25,648.82 212.66,648.61 214.07,648.41 215.49,648.22 216.90,648.03 218.31,647.84 219.72,647.66 221.13,647.49 222.54,647.32 223.96,647.15 225.37,646.99 226.78,646.84 228.19,646.69 229.60,646.54 231.02,646.39 232.43,646.26 233.84,646.12 235.25,645.99 236.66,645.86 238.08,645.74 239.49,645.62 240.90,645.50 242.31,645.38 243.72,645.27 245.14,645.17 246.55,645.06 247.96,644.96 249.37,644.86 250.78,644.76 252.19,644.67 253.61,644.58 255.02,644.49 256.43,644.40 257.84,644.32 259.25,644.24 260.67,644.16 262.08,644.08 263.49,644.01 264.90,643.94 266.31,643.87 267.73,643.80 269.14,643.73 270.55,643.67 271.96,643.60 273.37,643.54 274.79,643.48 276.20,643.42 277.61,643.37 279.02,643.31 280.43,643.26 281.85,643.21 283.26,643.16 284.67,643.11 286.08,643.06 287.49,643.02 288.90,642.97 290.32,642.93 291.73,642.88 293.14,642.84 294.55,642.80 295.96,642.76 297.38,642.73 298.79,642.69 300.20,642.65 301.61,642.62 303.02,642.59 304.44,642.55 305.85,642.52 307.26,642.49 308.67,642.46 310.08,642.43 311.50,642.40 312.91,642.37 314.32,642.35 315.73,642.32 317.14,642.29 318.55,642.27 319.97,642.24 321.38,642.22 322.79,642.20 324.20,642.18 325.61,642.15 327.03,642.13 328.44,642.11 329.85,642.09 331.26,642.07 332.67,642.05 334.09,642.04 335.50,642.02 336.91,642.00 338.32,641.98 339.73,641.97 341.15,641.95 342.56,641.93 343.97,641.92 345.38,641.90 346.79,641.89 348.21,641.88 349.62,641.86 351.03,641.85 352.44,641.84 353.85,641.82 355.26,641.81 356.68,641.80 358.09,641.79 359.50,641.78 360.91,641.76 362.32,641.75 363.74,641.74 365.15,641.73 366.56,641.72 367.97,641.71 369.38,641.70 370.80,641.69 372.21,641.68 373.62,641.68 375.03,641.67 376.44,641.66 377.86,641.65 379.27,641.64 380.68,641.63 382.09,641.63 383.50,641.62 384.91,641.61 386.33,641.60 387.74,641.60 389.15,641.59 390.56,641.58 391.97,641.58 393.39,641.57 394.80,641.56 396.21,641.56 397.62,641.55 399.03,641.54 400.45,641.54 401.86,641.53 403.27,641.53 404.68,641.52 406.09,641.51 407.51,641.51 408.92,641.50 410.33,641.50 411.74,641.49 413.15,641.49 414.57,641.48 415.98,641.48 417.39,641.47 418.80,641.47 420.21,641.46 421.62,641.46 423.04,641.45 424.45,641.45 425.86,641.44 427.27,641.44 428.68,641.43 430.10,641.43 431.51,641.42 432.92,641.42 434.33,641.41 435.74,641.41 437.16,641.40 438.57,641.40 439.98,641.39 441.39,641.39 442.80,641.38 444.22,641.38 445.63,641.37 447.04,641.37 448.45,641.36 449.86,641.36 451.27,641.35 452.69,641.34 454.10,641.34 455.51,641.33 456.92,641.33 458.33,641.32 459.75,641.32 461.16,641.31 462.57,641.31 463.98,641.30 465.39,641.29 466.81,641.29 468.22,641.28 469.63,641.27 471.04,641.27 472.45,641.26 473.87,641.25 475.28,641.25 476.69,641.24 478.10,641.23 479.51,641.23 480.93,641.22 482.34,641.21 483.75,641.20 485.16,641.20 486.57,641.19 487.98,641.18 489.40,641.17 490.81,641.16 492.22,641.15 493.63,641.14 495.04,641.13 496.46,641.13 497.87,641.12 499.28,641.11 500.69,641.10 502.10,641.08 503.52,641.07 504.93,641.06 506.34,641.05 507.75,641.04 509.16,641.03 510.58,641.02 511.99,641.00 513.40,640.99 514.81,640.98 516.22,640.96 517.63,640.95 519.05,640.93 520.46,640.92 521.87,640.90 523.28,640.89 524.69,640.87 526.11,640.86 527.52,640.84 528.93,640.82 530.34,640.80 531.75,640.79 533.17,640.77 534.58,640.75 535.99,640.73 537.40,640.71 538.81,640.69 540.23,640.66 541.64,640.64 543.05,640.62 544.46,640.60 545.87,640.57 547.29,640.55 548.70,640.52 550.11,640.49 551.52,640.47 552.93,640.44 554.34,640.41 555.76,640.38 557.17,640.35 558.58,640.32 559.99,640.29 561.40,640.26 562.82,640.22 564.23,640.19 565.64,640.15 567.05,640.11 568.46,640.08 569.88,640.04 571.29,640.00 572.70,639.96 574.11,639.91 575.52,639.87 576.94,639.83 578.35,639.78 579.76,639.73 581.17,639.68 582.58,639.63 583.99,639.58 585.41,639.53 586.82,639.47 588.23,639.42 589.64,639.36 591.05,639.30 592.47,639.24 593.88,639.18 595.29,639.11 596.70,639.05 598.11,638.98 599.53,638.91 600.94,638.84 602.35,638.76 603.76,638.68 605.17,638.61 606.59,638.52 608.00,638.44 609.41,638.36 610.82,638.27 612.23,638.18 613.65,638.08 615.06,637.99 616.47,637.89 617.88,637.79 619.29,637.68 620.70,637.58 622.12,637.46 623.53,637.35 624.94,637.23 626.35,637.11 627.76,636.99 629.18,636.86 630.59,636.73 632.00,636.60 633.41,636.46 634.82,636.31 636.24,636.17 637.65,636.02 639.06,635.86 640.47,635.70 641.88,635.54 643.30,635.37 644.71,635.19 646.12,635.02 647.53,634.83 648.94,634.64 650.35,634.45 651.77,634.25 653.18,634.04 654.59,633.83 656.00,633.61 657.41,633.39 658.83,633.15 660.24,632.92 661.65,632.67 663.06,632.42 664.47,632.16 665.89,631.90 667.30,631.62 668.71,631.34 670.12,631.05 671.53,630.75 672.95,630.45 674.36,630.13 675.77,629.81 677.18,629.47 678.59,629.13 680.01,628.78 681.42,628.41 682.83,628.04 684.24,627.65 685.65,627.26 687.06,626.85 688.48,626.43 689.89,626.00 691.30,625.56 692.71,625.10 694.12,624.63 695.54,624.15 696.95,623.65 698.36,623.14 699.77,622.62 701.18,622.08 702.60,621.52 704.01,620.95 705.42,620.36 706.83,619.76 708.24,619.13 709.66,618.49 711.07,617.83 712.48,617.15 713.89,616.46 715.30,615.74 716.71,615.00 718.13,614.24 719.54,613.46 720.95,612.66 722.36,611.83 723.77,610.98 725.19,610.10 726.60,609.20 728.01,608.28 729.42,607.33 730.83,606.35 732.25,605.34 733.66,604.30 735.07,603.23 736.48,602.14 737.89,601.01 739.31,599.84 740.72,598.65 742.13,597.42 743.54,596.16 744.95,594.85 746.37,593.52 747.78,592.14 749.19,590.72 750.60,589.26 752.01,587.77 753.42,586.22 754.84,584.64 756.25,583.00 757.66,581.32 759.07,579.60 760.48,577.82 761.90,575.99 763.31,574.11 764.72,572.18 766.13,570.19 767.54,568.14 768.96,566.03 770.37,563.86 771.78,561.64 773.19,559.34 774.60,556.98 776.02,554.55 777.43,552.06 778.84,549.49 780.25,546.85 781.66,544.13 783.07,541.33 784.49,538.45 785.90,535.49 787.31,532.45 788.72,529.32 790.13,526.09 791.55,522.78 792.96,519.37 794.37,515.86 795.78,512.25 797.19,508.54 798.61,504.72 800.02,500.79 801.43,496.75 802.84,492.59 804.25,488.31 805.67,483.91 807.08,479.38 808.49,474.72 809.90,469.93 811.31,465.00 812.73,459.93 814.14,454.71 815.55,449.34 816.96,443.82 818.37,438.60" fill="none" stroke="#ff7f0e" stroke-width="2.083" stroke-linejoin="round" stroke-linecap="square"/>
<g fill="#000" shape-rendering="crispEdges">
<rect x="79" y="426" width="776" height="1"/>
<rect x="79" y="706" width="776" height="1"/>
<rect x="74" y="431" width="5" height="1"/>
<rect x="74" y="473" width="5" height="1"/>
<rect x="74" y="515" width="5" height="1"/>
<rect x="74" y="557" width="5" height="1"/>
<rect x="74" y="599" width="5" height="1"/>
<rect x="74" y="641" width="5" height="1"/>
<rect x="74" y="684" width="5" height="1"/>
<rect x="79" y="426" width="1" height="281"/>
<rect x="854" y="426" width="1" height="281"/>
<rect x="114" y="707" width="1" height="5"/>
<rect x="255" y="707" width="1" height="5"/>
<rect x="396" y="707" width="1" height="5"/>
<rect x="537" y="707" width="1" height="5"/>
<rect x="677" y="707" width="1" height="5"/>
<rect x="818" y="707" width="1" height="5"/>
</g><g fill="#000" fill-opacity="0.055" shape-rendering="crispEdges">
<rect x="79" y="425" width="776" height="1"/><rect x="79" y="427" width="776" height="1"/>
<rect x="79" y="705" width="776" height="1"/><rect x="79" y="707" width="776" height="1"/>
<rect x="74" y="430" width="5" height="1"/><rect x="74" y="432" width="5" height="1"/>
<rect x="74" y="472" width="5" height="1"/><rect x="74" y="474" width="5" height="1"/>
<rect x="74" y="514" width="5" height="1"/><rect x="74" y="516" width="5" height="1"/>
<rect x="74" y="556" width="5" height="1"/><rect x="74" y="558" width="5" height="1"/>
<rect x="74" y="598" width="5" height="1"/><rect x="74" y="600" width="5" height="1"/>
<rect x="74" y="640" width="5" height="1"/><rect x="74" y="642" width="5" height="1"/>
<rect x="74" y="683" width="5" height="1"/><rect x="74" y="685" width="5" height="1"/>
<rect x="78" y="426" width="1" height="281"/><rect x="80" y="426" width="1" height="281"/>
<rect x="853" y="426" width="1" height="281"/><rect x="855" y="426" width="1" height="281"/>
<rect x="113" y="707" width="1" height="5"/><rect x="115" y="707" width="1" height="5"/>
<rect x="254" y="707" width="1" height="5"/><rect x="256" y="707" width="1" height="5"/>
<rect x="395" y="707" width="1" height="5"/><rect x="397" y="707" width="1" height="5"/>
<rect x="536" y="707" width="1" height="5"/><rect x="538" y="707" width="1" height="5"/>
<rect x="676" y="707" width="1" height="5"/><rect x="678" y="707" width="1" height="5"/>
<rect x="817" y="707" width="1" height="5"/><rect x="819" y="707" width="1" height="5"/>
</g>
<g class="t10">
<text x="114.43" y="727" text-anchor="middle">0</text>
<text x="254.34" y="727" text-anchor="middle">2</text>
<text x="396.15" y="727" text-anchor="middle">4</text>
<text x="536.35" y="727" text-anchor="middle">6</text>
<text x="677.36" y="727" text-anchor="middle">8</text>
<text x="809.83" y="727" letter-spacing="-0.45">10</text>
<text x="47.2" y="436" letter-spacing="-0.25">2.5</text>
<text x="47.2" y="478" letter-spacing="-0.25">2.0</text>
<text x="47.2" y="521" letter-spacing="-0.8">1.5</text>
<text x="47.2" y="563" letter-spacing="-0.8">1.0</text>
<text x="48.1" y="605" letter-spacing="-0.65">0.5</text>
<text x="48.1" y="647" letter-spacing="-0.65">0.0</text>
<text x="36.2" y="689" letter-spacing="-0.4">−0.5</text>
<text x="466.0" y="747" text-anchor="middle">time (s)</text>
</g>
<g transform="translate(25.2 594.9) rotate(-90)" class="t10"><text y="-1.36" letter-spacing="0.1">u (<tspan font-style="oblique">m</tspan>/<tspan font-style="oblique">s</tspan><tspan font-size="9.72" dy="-5.32">2</tspan><tspan dy="5.32">)</tspan></text></g>
<rect x="310.5" y="765.5" width="244" height="25" rx="2.78" fill="#fff" stroke="#ccc" stroke-width="1.389" opacity="0.8"/>
<circle cx="329.5" cy="777.5" r="3.47" fill="#1f77b4"/>
<line x1="437" y1="777" x2="465" y2="777" stroke="#ff7f0e" stroke-width="2.083" stroke-linecap="square"/>
<g class="t10"><text x="354.4" y="781.6">solution</text><text x="477.0" y="781.6" letter-spacing="-0.1">simulation</text></g>
</svg>
</body></html>
